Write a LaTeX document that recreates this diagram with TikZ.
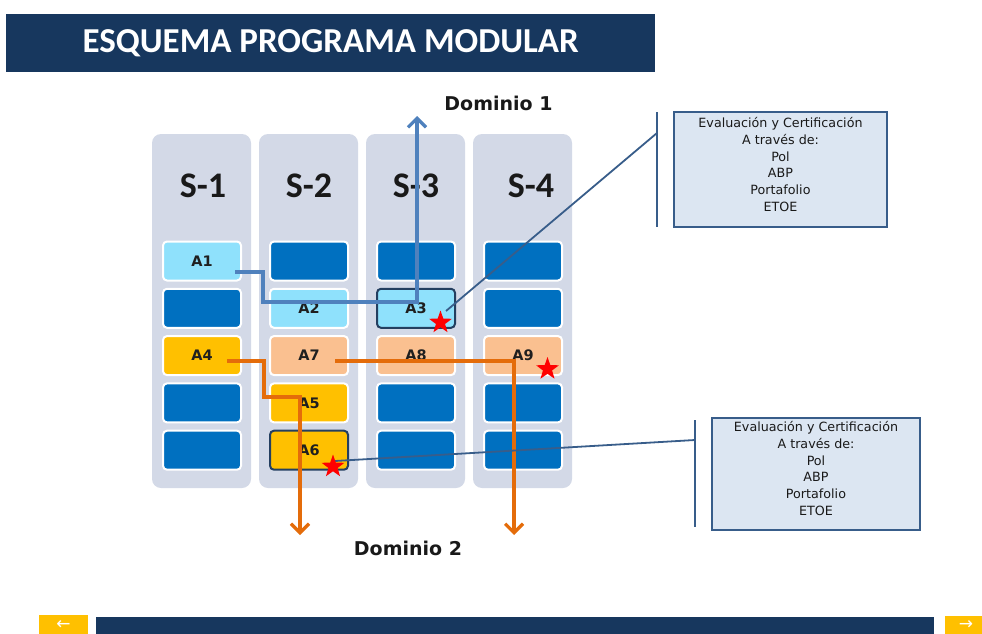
\documentclass[tikz,border=0pt]{standalone}
\usepackage{fontspec}
\setmainfont{Carlito}
\newfontfamily\symfont{DejaVu Sans}
\newfontfamily\wide{DejaVu Sans}
\usetikzlibrary{arrows.meta,shapes.geometric}

\definecolor{navy}{HTML}{17375E}
\definecolor{colbg}{HTML}{D3D9E7}
\definecolor{modblue}{HTML}{0070C0}
\definecolor{modsky}{HTML}{8FE1FC}
\definecolor{modgold}{HTML}{FFC000}
\definecolor{modpeach}{HTML}{FAC090}
\definecolor{pathblue}{HTML}{4F81BD}
\definecolor{pathorange}{HTML}{E46C0A}
\definecolor{callline}{HTML}{385D8A}
\definecolor{callfill}{HTML}{DCE6F2}
\definecolor{framedark}{HTML}{243F60}

\begin{document}
\begin{tikzpicture}[x=1pt,y=-1pt,
  column/.style={fill=colbg, rounded corners=9pt, minimum width=99pt,
    minimum height=354pt, inner sep=0pt},
  semlabel/.style={font=\bfseries\fontsize{36}{36}\selectfont, text=black!90},
  mod/.style={draw=white, line width=2pt, rounded corners=4pt,
    minimum width=78pt, minimum height=39pt, inner sep=0pt,
    font=\wide\bfseries\fontsize{14.5}{14.5}\selectfont, text=black!88},
  dark/.style={mod, fill=modblue},
  sky/.style={mod, fill=modsky},
  gold/.style={mod, fill=modgold},
  peach/.style={mod, fill=modpeach},
  framed/.style={draw=framedark},
  route/.style={line width=3.2pt, -{Straight Barb[length=9pt,width=18pt]}},
  starmark/.style={star, star points=5, star point ratio=2.5, fill=red,
    minimum size=24pt, inner sep=0pt},
  callbox/.style={draw=callline, line width=2.2pt, fill=callfill,
    minimum width=213pt, inner sep=0pt},
  calltext/.style={align=center, font=\wide\fontsize{12.7}{16.9}\selectfont,
    text=black!90, inner sep=0pt},
  callwire/.style={callline, line width=1.8pt},
  domainlabel/.style={font=\wide\bfseries\fontsize{19}{19}\selectfont, text=black!90},
  navbox/.style={fill=modgold, inner sep=0pt},
  navglyph/.style={text=white, inner sep=0pt, font=\symfont\fontsize{17}{17}\selectfont}
]
\useasboundingbox (0,0) rectangle (982,634);

% header bar
\node[fill=navy, minimum width=649pt, minimum height=58pt, inner sep=0pt,
  anchor=north west, text=white, font=\bfseries\fontsize{35}{35}\selectfont]
  (title) at (6,14) {ESQUEMA PROGRAMA MODULAR};

% semester columns
\node[column] (col1) at (201.5,311) {};
\node[column] (col2) at (308.5,311) {};
\node[column] (col3) at (415.5,311) {};
\node[column] (col4) at (522.5,311) {};

\node[semlabel] (s1) at (203,186) {S-1};
\node[semlabel] (s2) at (309,186) {S-2};
\node[semlabel] (s3) at (416,186) {S-3};
\node[semlabel] (s4) at (531,186) {S-4};

% modules: rows at 261, 308.3, 355.6, 402.9, 450.2
\node[sky]  (A1)  at (202,261)   {A1};
\node[dark] (m12) at (202,308.3) {};
\node[gold] (A4)  at (202,355.6) {A4};
\node[dark] (m14) at (202,402.9) {};
\node[dark] (m15) at (202,450.2) {};

\node[dark]  (m21) at (309,261)   {};
\node[sky]   (A2)  at (309,308.3) {A2};
\node[peach] (A7)  at (309,355.6) {A7};
\node[gold]  (A5)  at (309,402.9) {A5};
\node[gold, framed] (A6) at (309,450.2) {A6};

\node[dark]  (m31) at (416,261)   {};
\node[sky, framed] (A3) at (416,308.3) {A3};
\node[peach] (A8)  at (416,355.6) {A8};
\node[dark]  (m34) at (416,402.9) {};
\node[dark]  (m35) at (416,450.2) {};

\node[dark]  (m41) at (523,261)   {};
\node[dark]  (m42) at (523,308.3) {};
\node[peach] (A9)  at (523,355.6) {A9};
\node[dark]  (m44) at (523,402.9) {};
\node[dark]  (m45) at (523,450.2) {};

% domain labels and arrow ends
\node[domainlabel] (dom1) at (498.5,103) {Dominio 1};
\node[domainlabel] (dom2) at (408,548) {Dominio 2};
\coordinate (up1) at (417,116);
\coordinate (down1) at (300,535);
\coordinate (down2) at (514,535);

% learning routes
\coordinate (r1) at (235,272);
\coordinate (r2) at (227,361);
\coordinate (r3) at (335,361);
\draw[route, pathblue] (r1) -- (263,272) -- (263,302) -- (417,302) -- (up1);
\draw[route, pathorange] (r2) -- (264,361) -- (264,397) -- (300,397) -- (down1);
\draw[route, pathorange] (r3) -- (514,361) -- (down2);

% callout wires and brackets
\coordinate (w1a) at (446,311);
\coordinate (w1b) at (657,133);
\coordinate (w2a) at (335,461);
\coordinate (w2b) at (695,440);
\draw[callwire] (w1a) -- (w1b);
\draw[callwire] (w2a) -- (w2b);
\draw[callwire] (657,112) -- (657,227);
\draw[callwire] (695,420) -- (695,527);

% certification stars
\node[starmark] (st3) at (440.5,322.5) {};
\node[starmark] (st6) at (333,466.5) {};
\node[starmark] (st9) at (547.5,369) {};

% callout boxes
\node[callbox, minimum height=115pt] (cb1) at (780.5,169.5) {};
\node[calltext] (ct1) at (780.5,164.5) {Evaluación y Certificación\\A través de:\\Pol\\ABP\\Portafolio\\ETOE};
\node[callbox, minimum width=208pt, minimum height=112pt] (cb2) at (816,474) {};
\node[calltext] (ct2) at (816,468.5) {Evaluación y Certificación\\A través de:\\Pol\\ABP\\Portafolio\\ETOE};

% footer navigation
\node[navbox, minimum width=49pt, minimum height=19pt] (back) at (63.5,624.5) {};
\node[navglyph] (backglyph) at (63.5,625) {←};
\node[fill=navy, minimum width=838pt, minimum height=17pt, inner sep=0pt] (bar) at (515,625.5) {};
\node[navbox, minimum width=38pt, minimum height=18pt] (next) at (964,625) {};
\node[navglyph] (nextglyph) at (966,625.5) {→};
\end{tikzpicture}
\end{document}
